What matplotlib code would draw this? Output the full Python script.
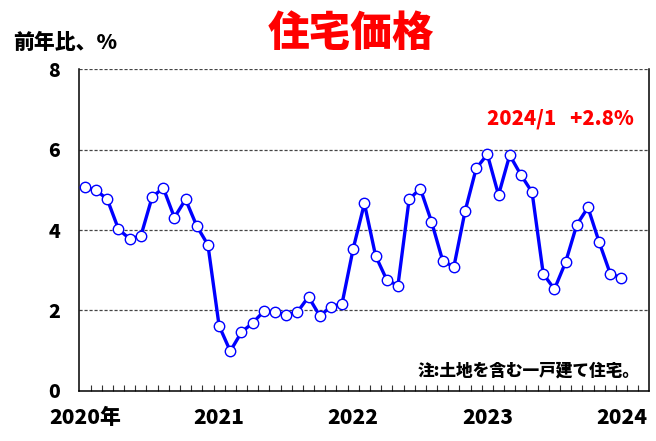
import matplotlib
matplotlib.use("Agg")
import matplotlib.pyplot as plt
import numpy as np

plt.rcParams['font.family'] = ['Noto Sans CJK JP', 'DejaVu Sans']
plt.rcParams['font.weight'] = 'bold'

# monthly values, 2020/1 .. 2024/1 (前年比, %)
values = [5.06, 4.99, 4.76, 4.02, 3.78, 3.85, 4.81, 5.05, 4.31, 4.76, 4.10, 3.63,
          1.62, 0.99, 1.46, 1.69, 1.98, 1.97, 1.89, 1.96, 2.34, 1.87, 2.09, 2.17,
          3.54, 4.66, 3.36, 2.76, 2.62, 4.76, 5.03, 4.21, 3.24, 3.08, 4.46, 5.53,
          5.88, 4.87, 5.86, 5.37, 4.94, 2.91, 2.53, 3.20, 4.13, 4.56, 3.70, 2.91,
          2.81]
year_labels = ['2020年', '2021', '2022', '2023', '2024']
year_pos = [0, 12, 24, 36, 48]
y_ticks = [0, 2, 4, 6, 8]

fig = plt.figure(figsize=(6.56, 4.41), dpi=100)
ax = fig.add_axes([0.121, 0.1134, 0.869, 0.7301])

x = np.arange(len(values))
ax.plot(x, values, color='#0000ff', lw=2.4, marker='o', ms=7.5,
        markerfacecolor='white', markeredgecolor='#0000ff', markeredgewidth=1.0,
        zorder=3)

ax.set_xlim(-0.5, 50.5)
ax.set_ylim(0, 8)

for v in [2, 4, 6, 8]:
    ax.axhline(v, color='#444444', lw=0.9, ls=(0, (2.5, 1.5)), zorder=1)

ax.set_xticks(year_pos)
ax.set_xticklabels(year_labels, fontsize=15, fontweight='heavy')
ax.set_xticks(np.arange(0.5, 50, 1), minor=True)
ax.tick_params(axis='x', which='major', length=0, pad=12)
ax.tick_params(axis='x', which='minor', direction='in', length=4, width=0.8, color='#333333')
ax.set_yticks(y_ticks)
ax.set_yticklabels([str(v) for v in y_ticks], fontsize=14, fontweight='heavy')
ax.tick_params(axis='y', length=0, pad=14)

ax.spines['top'].set_visible(False)
for s in ['left', 'bottom', 'right']:
    ax.spines[s].set_linewidth(1.1)
    ax.spines[s].set_color('black')

fig.text(0.535, 0.922, '住宅価格', color='#ff0000', fontsize=30, fontweight='heavy',
         ha='center', va='center')
fig.text(0.10, 0.902, '前年比、%', fontsize=15, fontweight='heavy', ha='center', va='center')
ax.text(0.972, 0.845, '2024/1   +2.8%', transform=ax.transAxes, color='#ff0000',
        fontsize=14.5, fontweight='heavy', ha='right', va='center')
ax.text(0.983, 0.063, '注:土地を含む一戸建て住宅。', transform=ax.transAxes,
        fontsize=12, fontweight='heavy', ha='right', va='center')

fig.savefig('out.png', dpi=100)
